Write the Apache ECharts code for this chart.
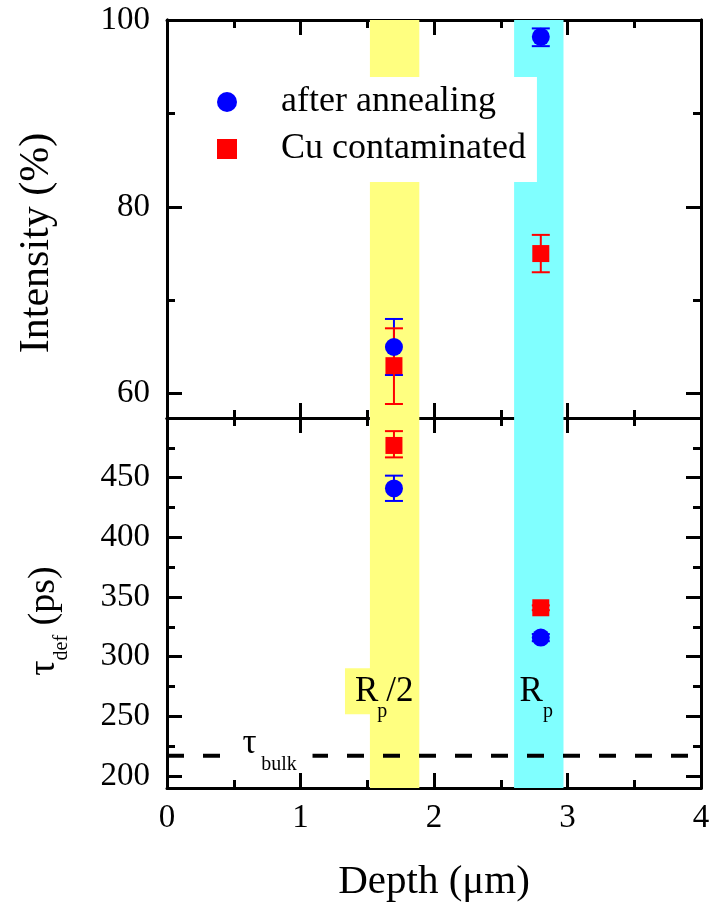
<!DOCTYPE html>
<html><head><meta charset="utf-8">
<script src="https://cdn.jsdelivr.net/npm/echarts@6/dist/echarts.min.js"></script>
<style>html,body{margin:0;padding:0;background:#fff}#c{width:722px;height:909px}</style>
</head><body><div id="c"></div>
<script>
// ---- data ----
const depths = [1.7, 2.8];
const seriesNames = ['after annealing', 'Cu contaminated'];
const intensityAnnealed = [65, 98.2];
const intensityAnnealedErr = [[62, 68], [97.2, 99.1]];
const intensityCu = [63, 75];
const intensityCuErr = [[58.9, 67], [73, 77]];
const tauAnnealed = [441, 316];
const tauAnnealedErr = [[430.5, 451.7], [313, 319]];
const tauCu = [477, 341];
const tauCuErr = [[467, 489], [339, 343]];
const tauBulk = 217;
const depthRange = [0, 4];
const bandRp2 = [1.52, 1.89];
const bandRp = [2.6, 2.97];
const depthTickLabels = [0, 1, 2, 3, 4];
const intensityMajorTicks = [60, 80, 100];
const intensityMinorTicks = [70, 90];
const tauMajorTicks = [200, 250, 300, 350, 400, 450];
const tauMinorTicks = [225, 275, 325, 375, 425, 475];
const labelRp2Anchor = [1.605, 271];
const labelRpAnchor = [2.727, 271];
const labelTauBulkAnchor = [0.764, 227.4];

// ---- styling ----
const FONT = "'Liberation Serif', 'Times New Roman', serif";
const BLACK = '#000';
const BLUE = '#0000FF';
const RED = '#FF0000';
const YELLOW = '#FFFF80';
const CYAN = '#80FFFF';

function xAx(grid, pos, showLabel) {
  return {
    type: 'value', gridIndex: grid, position: pos, min: depthRange[0], max: depthRange[1], interval: 1,
    axisLine: { show: true, onZero: false, lineStyle: { color: BLACK, width: 3 } },
    axisTick: { show: true, inside: true, length: 15, lineStyle: { color: BLACK, width: 3 } },
    minorTick: { show: true, splitNumber: 2, length: 8, lineStyle: { color: BLACK, width: 3 } },
    splitLine: { show: false }, minorSplitLine: { show: false },
    axisLabel: {
      show: showLabel, fontFamily: FONT, fontSize: 33, color: BLACK, margin: 14,
      formatter: v => depthTickLabels.includes(v) ? String(v) : ''
    },
    name: showLabel ? 'Depth (\u03bcm)' : '', nameLocation: 'middle', nameGap: 74,
    nameTextStyle: { fontFamily: FONT, fontSize: 41, color: BLACK }
  };
}
function yAx(grid, pos, min, max, ticks, len, labels, name, nameOpt) {
  const a = {
    type: 'value', gridIndex: grid, position: pos, min: min, max: max,
    axisLine: { show: true, onZero: false, lineStyle: { color: BLACK, width: 3 } },
    axisTick: { show: true, inside: true, length: len, customValues: ticks, lineStyle: { color: BLACK, width: 3 } },
    splitLine: { show: false },
    axisLabel: labels ? { show: true, customValues: labels, fontFamily: FONT, fontSize: 33, color: BLACK, margin: 17 }
                      : { show: false }
  };
  if (name) Object.assign(a, { name: name, nameLocation: 'middle' }, nameOpt);
  return a;
}

const xAxes = [
  xAx(0, 'bottom', false), xAx(0, 'top', false),
  xAx(1, 'bottom', true), xAx(1, 'top', false)
];
const yAxes = [
  yAx(0, 'left', 57.4, 100, intensityMajorTicks, 15, intensityMajorTicks, 'Intensity (%)',
      { nameGap: 109, nameTextStyle: { fontFamily: FONT, fontSize: 42, color: BLACK, padding: [0, 48, 0, 0] } }),
  yAx(0, 'left', 57.4, 100, intensityMinorTicks, 8, null),
  yAx(0, 'right', 57.4, 100, intensityMajorTicks, 15, null),
  yAx(0, 'right', 57.4, 100, intensityMinorTicks, 8, null),
  yAx(1, 'left', 190, 500, tauMajorTicks, 15, tauMajorTicks, '{m|\u03c4}{s|def}{m| (ps)}',
      { nameGap: 95, nameTextStyle: { fontFamily: FONT, fontSize: 38, color: BLACK, padding: [0, 36, 0, 0],
        rich: { m: { fontFamily: FONT, fontSize: 38, lineHeight: 56, color: BLACK },
                s: { fontFamily: FONT, fontSize: 20, lineHeight: 8, verticalAlign: 'bottom', color: BLACK } } } }),
  yAx(1, 'left', 190, 500, tauMinorTicks, 8, null),
  yAx(1, 'right', 190, 500, tauMajorTicks, 15, null),
  yAx(1, 'right', 190, 500, tauMinorTicks, 8, null)
];

function pairs(xs, ys) { return xs.map((x, i) => [x, ys[i]]); }
function errData(xs, errs) { return xs.map((x, i) => [x, errs[i][0], errs[i][1]]); }
function errRender(color) {
  return function (params, api) {
    const x = api.value(0);
    const p1 = api.coord([x, api.value(1)]);
    const p2 = api.coord([x, api.value(2)]);
    const w = 9;
    const style = { stroke: color, lineWidth: 2 };
    return { type: 'group', children: [
      { type: 'line', shape: { x1: p1[0], y1: p1[1], x2: p2[0], y2: p2[1] }, style: style },
      { type: 'line', shape: { x1: p1[0] - w, y1: p1[1], x2: p1[0] + w, y2: p1[1] }, style: style },
      { type: 'line', shape: { x1: p2[0] - w, y1: p2[1], x2: p2[0] + w, y2: p2[1] }, style: style }
    ] };
  };
}
function errSeries(xi, yi, data, color) {
  return { type: 'custom', xAxisIndex: xi, yAxisIndex: yi, z: 3, silent: true,
    encode: { x: 0, y: [1, 2] }, renderItem: errRender(color), data: data };
}
function bandSeries(xi, yi) {
  return { type: 'line', xAxisIndex: xi, yAxisIndex: yi, z: 1, data: [], silent: true,
    markArea: { silent: true, label: { show: false },
      data: [
        [{ xAxis: bandRp2[0], itemStyle: { color: YELLOW } }, { xAxis: bandRp2[1] }],
        [{ xAxis: bandRp[0], itemStyle: { color: CYAN } }, { xAxis: bandRp[1] }]
      ] } };
}
function scatterSeries(xi, yi, name, data, symbol, color, z) {
  return { type: 'scatter', name: name, xAxisIndex: xi, yAxisIndex: yi, z: z, silent: true,
    symbol: symbol, symbolSize: symbol === 'rect' ? 17 : 18, itemStyle: { color: color, opacity: 1 }, data: data };
}
function txt(anchor, text, opts) {
  return { value: anchor, label: Object.assign({ show: true, position: 'inside', formatter: text,
    fontFamily: FONT, color: BLACK, opacity: 1 }, opts) };
}

const option = {
  animation: false,
  backgroundColor: '#fff',
  textStyle: { fontFamily: FONT },
  grid: [
    { left: 167, right: 21, top: 20, height: 398 },
    { left: 167, right: 21, top: 418, height: 370 }
  ],
  xAxis: xAxes,
  yAxis: yAxes,
  legend: {
    data: seriesNames, orient: 'vertical', left: 191, top: 77,
    padding: [7, 11, 15, 26], itemGap: 11, itemWidth: 20, itemHeight: 20,
    backgroundColor: '#fff', selectedMode: false,
    textStyle: { fontFamily: FONT, fontSize: 36, lineHeight: 36, color: BLACK, padding: [0, 0, 0, 39] }
  },
  series: [
    bandSeries(0, 0),
    bandSeries(2, 4),
    { type: 'line', name: 'tau bulk', xAxisIndex: 2, yAxisIndex: 4, z: 2, silent: true,
      symbol: 'none', lineStyle: { type: [17, 19], color: BLACK, width: 4 },
      data: [[depthRange[0], tauBulk], [depthRange[1], tauBulk]] },
    errSeries(0, 0, errData(depths, intensityAnnealedErr), BLUE),
    errSeries(0, 0, errData(depths, intensityCuErr), RED),
    errSeries(2, 4, errData(depths, tauAnnealedErr), BLUE),
    errSeries(2, 4, errData(depths, tauCuErr), RED),
    scatterSeries(0, 0, seriesNames[0], pairs(depths, intensityAnnealed), 'circle', BLUE, 4),
    scatterSeries(0, 0, seriesNames[1], pairs(depths, intensityCu), 'rect', RED, 5),
    scatterSeries(2, 4, seriesNames[0], pairs(depths, tauAnnealed), 'circle', BLUE, 4),
    scatterSeries(2, 4, seriesNames[1], pairs(depths, tauCu), 'rect', RED, 5),
    {
      type: 'scatter', name: 'annotations', xAxisIndex: 2, yAxisIndex: 4, z: 10, silent: true,
      symbolSize: 1, itemStyle: { color: 'rgba(0,0,0,0)', opacity: 1 },
      data: [
        txt(labelRp2Anchor, '{m|R}{g| }{m|/2}', { backgroundColor: YELLOW, padding: [0, 4, 0, 10],
          rich: { m: { fontFamily: FONT, fontSize: 35, lineHeight: 46, color: BLACK },
                  g: { fontFamily: FONT, fontSize: 20, width: 8 } } }),
        txt(labelRp2Anchor, 'p', { fontSize: 20, lineHeight: 22, offset: [1, 20] }),
        txt(labelRpAnchor, 'R', { fontSize: 35, lineHeight: 46 }),
        txt(labelRpAnchor, 'p', { fontSize: 20, lineHeight: 22, offset: [17, 20] }),
        txt(labelTauBulkAnchor, '\u03c4', { fontSize: 35, lineHeight: 40, backgroundColor: '#fff', padding: [0, 56, 0, 17] }),
        txt(labelTauBulkAnchor, 'bulk', { fontSize: 20, lineHeight: 22, offset: [10, 21] })
      ]
    }
  ]
};
const chart = echarts.init(document.getElementById('c'), null, { renderer: 'canvas' });
chart.setOption(option);
</script></body></html>
